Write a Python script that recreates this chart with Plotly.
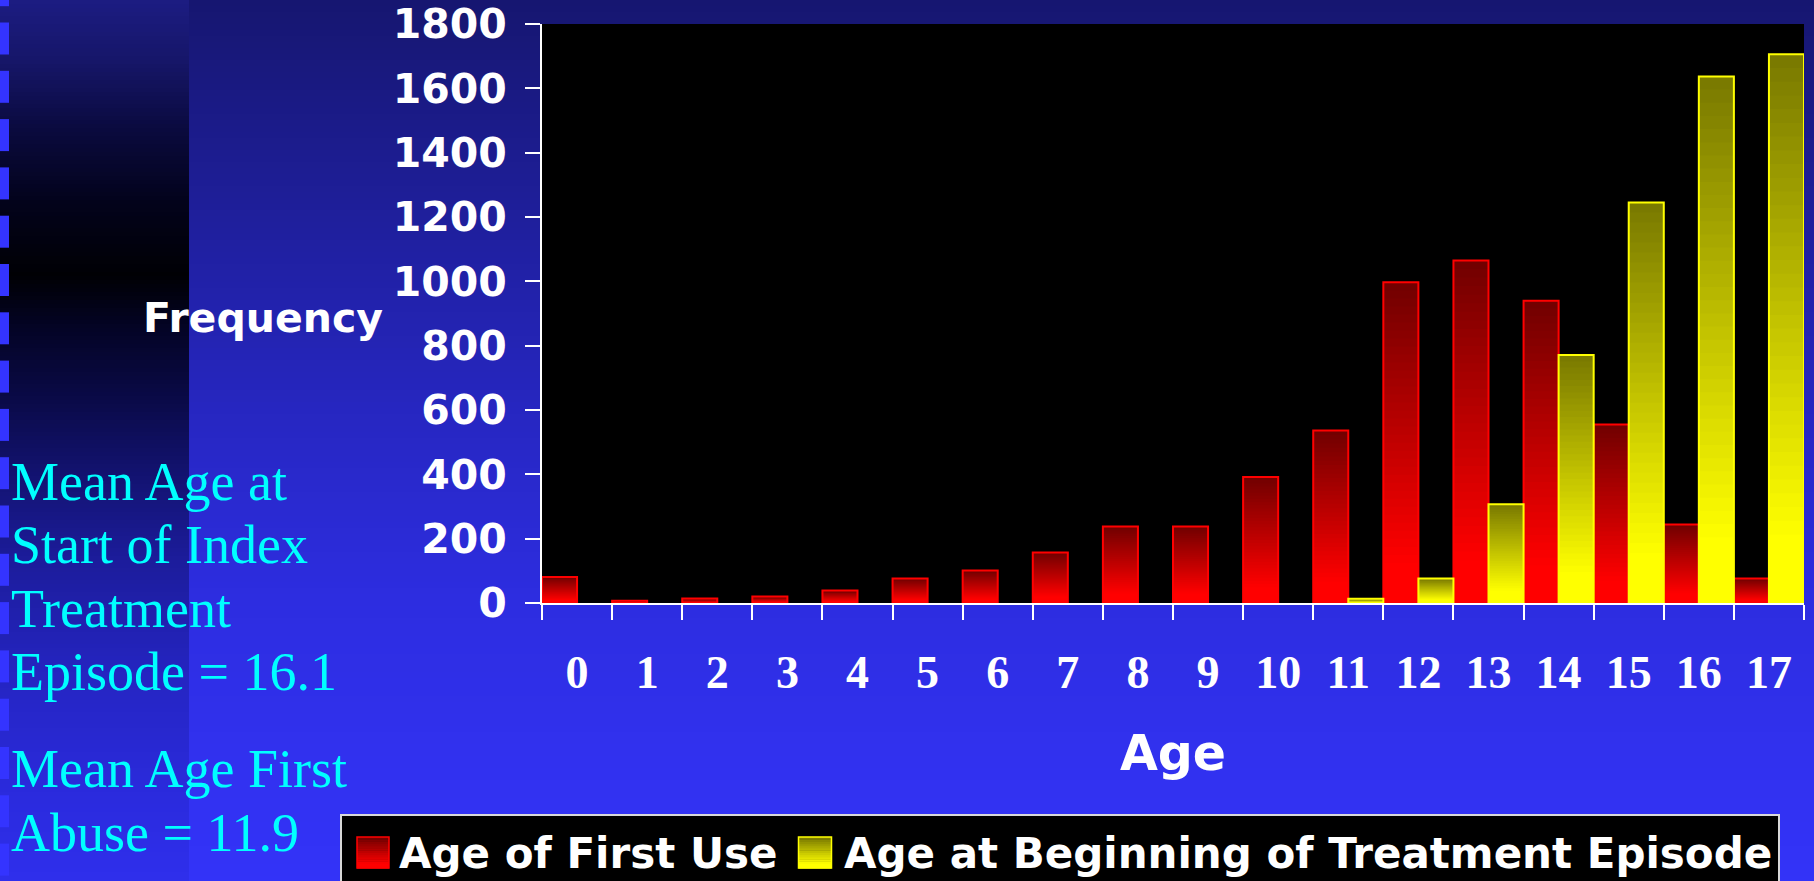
import plotly.graph_objects as go

# ---------------- data ----------------
ages = ["0", "1", "2", "3", "4", "5", "6", "7", "8", "9",
        "10", "11", "12", "13", "14", "15", "16", "17"]
first_use = [81, 7, 14, 20, 39, 76, 101, 157, 238, 238,
             392, 536, 997, 1065, 940, 555, 244, 76]
treatment_start = [0, 0, 0, 0, 0, 0, 0, 0, 0, 0,
                   0, 13, 76, 307, 771, 1245, 1637, 1706]
series_names = ["Age of First Use", "Age at Beginning of Treatment Episode"]
y_ticks = [0, 200, 400, 600, 800, 1000, 1200, 1400, 1600, 1800]
side_lines = ["Mean Age at", "Start of Index", "Treatment", "Episode = 16.1",
              "Mean Age First", "Abuse = 11.9"]

# ---------------- layout geometry ----------------
W, H = 1814, 881
L, R, T, B = 542, 10, 24, 278
PW, PH = W - L - R, H - T - B


def px_x(px):
    return (px - L) / PW


def px_y(py):
    return 1 - (py - T) / PH


def lerp_stops(stops, y):
    for (y0, c0), (y1, c1) in zip(stops[:-1], stops[1:]):
        if y0 <= y <= y1:
            f = (y - y0) / (y1 - y0)
            return tuple(int(round(a + (b - a) * f)) for a, b in zip(c0, c1))
    return stops[-1][1]


def rgb(c):
    return "rgb(%d,%d,%d)" % c


shapes = []

# main background gradient
main_stops = [(0, (22, 22, 112)), (150, (28, 28, 142)), (300, (34, 34, 172)),
              (450, (40, 40, 200)), (600, (45, 45, 224)), (750, (49, 49, 238)),
              (881, (51, 51, 248))]
step = 6
for y in range(0, H, step):
    shapes.append(dict(type="rect", xref="paper", yref="paper", layer="below",
                       x0=px_x(0), x1=px_x(W), y0=px_y(y), y1=px_y(min(H, y + step) + 1),
                       fillcolor=rgb(lerp_stops(main_stops, y + step / 2)), line_width=0))

# left dark strip
strip_stops = [(0, (28, 28, 130)), (60, (22, 22, 105)), (130, (10, 10, 62)),
               (200, (3, 3, 28)), (275, (0, 0, 4)), (330, (4, 4, 38)),
               (400, (10, 10, 72)), (470, (18, 18, 110)), (560, (28, 28, 155)),
               (680, (37, 37, 195)), (800, (43, 43, 222)), (881, (47, 47, 236))]
step = 4
for y in range(0, H, step):
    shapes.append(dict(type="rect", xref="paper", yref="paper", layer="below",
                       x0=px_x(0), x1=px_x(189), y0=px_y(y), y1=px_y(min(H, y + step) + 1),
                       fillcolor=rgb(lerp_stops(strip_stops, y + step / 2)), line_width=0))

# blue dashes at the left edge
for k in range(-1, 18):
    y0 = 22.5 + 48.3 * k
    shapes.append(dict(type="rect", xref="paper", yref="paper", layer="below",
                       x0=px_x(0), x1=px_x(9), y0=px_y(max(0, y0)), y1=px_y(min(H, y0 + 32)),
                       fillcolor="rgb(52,52,255)", line_width=0))

# black plotting area
shapes.append(dict(type="rect", xref="paper", yref="paper", layer="below",
                   x0=0, x1=1, y0=0, y1=1, fillcolor="black", line_width=0))

# ---------------- bars with vertical gradient ----------------
N = 40
fig = go.Figure()

bar_styles = [
    (first_use, -0.5, (112, 0, 0), (255, 0, 0), "#ff0000"),
    (treatment_start, 0.0, (120, 120, 0), (255, 255, 0), "#ffff00"),
]


def grad_color(dark, bright, t, start=0.12):
    f = max(0.0, (t - start) / (1 - start))
    return tuple(int(round(b + (d - b) * f)) for d, b in zip(dark, bright))


for (vals, off, dark, bright, edge), name in zip(bar_styles, series_names):
    vv = [v if v > 0 else None for v in vals]
    for k in range(N):
        t = (k + 0.5) / N
        # each slice reaches the bar top; later slices cover the upper part (no seams)
        fig.add_trace(go.Bar(
            x=ages,
            y=[None if v is None else v * (N - k) / N for v in vv],
            base=[None if v is None else v * k / N for v in vv],
            offset=off, width=0.5,
            marker=dict(color=rgb(grad_color(dark, bright, t)), line=dict(width=0)),
            showlegend=False, hoverinfo="skip"))
    fig.add_trace(go.Bar(
        x=ages, y=vv, offset=off, width=0.5, name=name,
        marker=dict(color="rgba(0,0,0,0)", line=dict(color=edge, width=2)),
        showlegend=False))

# ---------------- manual legend ----------------
shapes_above = []
shapes_above.append(dict(type="rect", xref="paper", yref="paper", layer="above",
                         x0=px_x(341), x1=px_x(1779), y0=px_y(815), y1=px_y(900),
                         fillcolor="black", line=dict(color="#d8d8d8", width=2)))
legend_boxes = [(357, 389), (798.5, 831.5)]
M = 14
for (x0, x1), (vals, off, dark, bright, edge) in zip(legend_boxes, bar_styles):
    top, bot = 837, 868
    for k in range(M):
        ya = bot - (bot - top) * k / M
        yb = bot - (bot - top) * (k + 1) / M
        t = (k + 0.5) / M
        shapes_above.append(dict(type="rect", xref="paper", yref="paper", layer="above",
                                 x0=px_x(x0), x1=px_x(x1), y0=px_y(ya + 0.5), y1=px_y(yb),
                                 fillcolor=rgb(grad_color(dark, bright, t, 0.15)), line_width=0))
    shapes_above.append(dict(type="rect", xref="paper", yref="paper", layer="above",
                             x0=px_x(x0), x1=px_x(x1), y0=px_y(bot), y1=px_y(top),
                             fillcolor="rgba(0,0,0,0)", line=dict(color=edge, width=1.5)))

annotations = []
legend_text_x = [397, 842]
for name, lx in zip(series_names, legend_text_x):
    annotations.append(dict(text=name, xref="paper", yref="paper", x=px_x(lx), y=px_y(853),
                            xanchor="left", yanchor="middle", showarrow=False,
                            font=dict(family="DejaVu Sans", size=42, color="white", weight="bold")))

# y-axis title written horizontally
annotations.append(dict(text="Frequency", xref="paper", yref="paper", x=px_x(141), y=px_y(318),
                        xanchor="left", yanchor="middle", showarrow=False,
                        font=dict(family="DejaVu Sans", size=41, color="white", weight="bold")))

# left side cyan notes
side_baselines = [500, 563, 627, 690, 787, 851]
for line, bl in zip(side_lines, side_baselines):
    annotations.append(dict(text=line, xref="paper", yref="paper", x=px_x(9), y=px_y(bl - 18),
                            xanchor="left", yanchor="middle", showarrow=False,
                            font=dict(family="Liberation Serif", size=54, color="#00ffff")))

fig.update_layout(
    width=W, height=H,
    margin=dict(l=L, r=R, t=T, b=B, pad=0, autoexpand=False),
    paper_bgcolor="rgb(40,40,200)",
    plot_bgcolor="black",
    barmode="overlay",
    hovermode=False,
    showlegend=False,
    shapes=shapes + shapes_above,
    annotations=annotations,
    xaxis=dict(
        type="category", range=[-0.5, 17.5], tickson="boundaries", automargin=False,
        ticks="outside", ticklen=15, tickwidth=2, tickcolor="white",
        showline=True, linecolor="white", linewidth=2, showgrid=False,
        tickfont=dict(family="Liberation Serif", size=46, color="white", weight="bold"),
        ticklabelstandoff=28,
        title=dict(text="Age", standoff=38,
                   font=dict(family="DejaVu Sans", size=49, color="white", weight="bold")),
    ),
    yaxis=dict(
        range=[0, 1800], tickvals=y_ticks, ticktext=[str(v) for v in y_ticks], automargin=False,
        ticks="outside", ticklen=15, tickwidth=2, tickcolor="white",
        showline=True, linecolor="white", linewidth=2, showgrid=False, zeroline=False,
        tickfont=dict(family="DejaVu Sans", size=41, color="white", weight="bold"),
        ticklabelstandoff=10,
    ),
)

fig.write_html("out.html", config={"displayModeBar": False},
               post_script="document.body.style.margin='0';document.body.style.overflow='hidden';")
